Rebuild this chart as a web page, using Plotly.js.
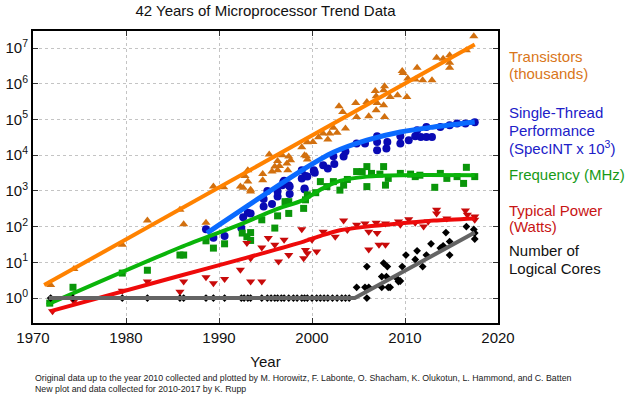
<!DOCTYPE html>
<html>
<head>
<meta charset="utf-8">
<script src="https://cdn.plot.ly/plotly-3.0.1.min.js"></script>
<style>html,body{margin:0;padding:0;background:#fff;}#chart{width:625px;height:396px;}</style>
</head>
<body>
<div id="chart"></div>
<script>
// ---- Transistors (thousands)
var transYears = [1971.9,1974.4,1979.6,1982.3,1985.8,1986.2,1988.6,1989.4,1990.5,1992.3,1992.6,1992.8,1993.1,1993.1,1993.4,1993.4,1994.7,1994.7,1995.4,1995.7,1996.0,1996.3,1996.3,1996.5,1996.8,1997.3,1997.4,1997.5,1997.7,1998.9,1999.2,1999.4,1999.5,1999.5,2000.1,2000.7,2001.2,2001.7,2001.9,2002.3,2002.7,2002.9,2003.3,2003.6,2004.7,2004.8,2005.9,2006.1,2006.8,2006.9,2006.9,2007.0,2007.7,2007.8,2007.7,2007.8,2008.4,2009.2,2010.2,2009.7,2009.8,2010.3,2011.1,2011.3,2011.9,2012.9,2013.4,2014.1,2014.8,2014.8,2014.8,2016.6,2017.4];
var transVals = [2.3,6.5,31,148,295,117,129,1320,1260,1320,1230,2630,1820,3800,1070,955,2950,2000,10500,3470,4790,6920,3800,5010,10000,5890,3800,9120,7240,16600,10000,9330,7590,22900,23400,31600,40700,27500,40700,58900,42700,234000,162000,56200,288000,117000,309000,123000,631000,447000,182000,288000,661000,851000,251000,117000,427000,479000,427000,2290000,2000000,1410000,1320000,2820000,1260000,1260000,5370000,5010000,6310000,3890000,2820000,8710000,21400000];
var transFitYears = [1971.2, 2017.5];
var transFitVals = [2.3, 12600000];

// ---- Single-thread performance (SpecINT x 10^3)
var perfYears = [1988.6,1989.4,1990.6,1992.4,1992.6,1993.1,1993.4,1994.8,1994.8,1995.2,1995.7,1996.3,1996.3,1996.8,1996.9,1997.0,1997.5,1997.6,1997.6,1998.9,1998.9,1999.2,1999.2,1999.3,1999.5,2000.2,2000.2,2000.3,2001.2,2001.7,2002.3,2002.4,2003.4,2003.6,2004.8,2005.7,2007.0,2007.0,2007.0,2008.0,2008.1,2009.5,2009.5,2010.4,2011.1,2011.3,2011.7,2012.3,2012.3,2012.9,2013.8,2014.8,2015.6,2016.5,2017.5];
var perfVals = [85,49,55,91,182,245,234,363,589,1000,427,692,955,1450,1740,1910,1450,813,1320,2240,3800,1120,1170,2630,2510,3470,3800,3240,5250,4270,9330,5620,9120,12600,21400,21400,33900,23400,13800,15500,23400,21400,33900,26300,33900,50100,32400,32400,61700,32400,61700,69200,77600,77600,83200];
var perfFitYears = [1988.7, 1998.7, 2002.3, 2005.9, 2009.5, 2013.1, 2017.5];
var perfFitVals = [66, 3470, 12000, 26300, 44700, 61700, 85100];

// ---- Frequency (MHz)
var freqYears = [1971.8,1974.3,1979.6,1982.3,1985.8,1986.2,1988.6,1989.4,1990.6,1992.5,1993.0,1993.4,1993.4,1994.6,1996.0,1996.3,1997.1,1997.5,1997.5,1999.1,1999.3,1999.5,2000.4,2000.9,2001.6,2002.3,2003.0,2003.4,2003.8,2004.8,2005.4,2005.9,2005.9,2006.4,2007.3,2007.7,2007.9,2008.2,2009.5,2010.6,2011.1,2011.6,2013.2,2013.8,2014.5,2015.6,2016.3,2016.6,2017.5];
var freqVals = [0.72,2,5,6,16,16,40,25,33,66,52,41,68,155,91,200,500,234,500,324,562,776,891,1820,1320,1820,1050,1450,2090,3470,3470,4790,1320,3090,2950,4790,1450,2240,3090,2950,2510,2750,1260,3090,2240,2510,1620,4570,2510];
var freqFitYears = [1971.5, 1985.8, 1992.3, 1996.0, 1999.1, 2001.0, 2003.0, 2005.9, 2009.5, 2017.5];
var freqFitVals = [0.65, 26, 115, 295, 562, 1120, 1910, 2510, 2750, 2750];

// ---- Typical power (Watts)
var powerYears = [1972.1,1974.4,1979.6,1982.3,1985.8,1986.2,1988.6,1989.4,1990.6,1992.3,1993.0,1993.4,1993.4,1994.6,1994.6,1995.3,1996.0,1996.4,1997.0,1997.5,1998.9,1999.1,1999.3,1999.5,2000.0,2000.5,2001.2,2002.5,2003.4,2003.8,2004.8,2005.7,2006.1,2006.1,2006.9,2007.0,2007.2,2007.9,2007.9,2009.3,2009.5,2010.4,2011.1,2012.0,2012.5,2013.4,2013.4,2014.5,2016.5,2016.7,2017.5,2017.5];
var powerVals = [0.43,0.81,1.6,2.9,1.5,2.9,3.8,2.6,3.4,6.2,35,13,2.9,2.9,26,48,31,10.5,43,16,85,13,22,18,43,20,72,52,148,81,112,123,72,23,129,66,31,31,123,138,112,162,129,100,138,295,234,170,282,214,191,155];
var powerFitYears = [1971.9, 1985.8, 1993.0, 1999.1, 2001.0, 2003.0, 2005.9, 2009.5, 2013.1, 2017.5];
var powerFitVals = [0.43, 4.2, 13.5, 38, 56, 79, 100, 123, 148, 170];

// ---- Number of logical cores
var coreYears = [1971.9,1974.3,1979.6,1982.3,1985.8,1986.2,1988.6,1989.4,1990.6,1992.4,1992.7,1993.1,1993.4,1994.6,1995.2,1995.6,1996.0,1996.3,1996.7,1997.0,1997.5,1998.0,1998.4,1998.9,1999.2,1999.5,2000.0,2000.5,2000.9,2001.3,2001.7,2002.2,2002.7,2003.2,2003.6,2004.0,2004.8,2005.9,2005.7,2006.1,2005.9,2007.7,2008.1,2007.5,2008.0,2007.5,2008.2,2008.4,2009.1,2009.3,2009.7,2009.5,2010.1,2011.1,2011.3,2011.9,2012.3,2012.8,2013.8,2014.1,2014.4,2014.8,2014.8,2016.6,2017.5,2017.5,2017.4];
var coreVals = [1,1,1,1,1,1,1,1,1,1,1,1,1,1,1,1,1,1,1,1,1,1,1,1,1,1,1,1,1,1,1,1,1,1,1,1,2,1,2,2,7.6,9.5,7.6,4,4,2,2,2,3.6,2.9,7.6,3,16,12,21,7.6,16,33,25,29,68,38,16,100,66,45,83];
var coreFitYears = [1971.7, 2004.6, 2017.5];
var coreFitVals = [1, 1, 68];

// ---- axis ticks
var xTicks = [1970,1980,1990,2000,2010,2020];
var yTickVals = [1,10,100,1000,10000,100000,1000000,10000000];
var yTickText = ['10<sup>0</sup>','10<sup>1</sup>','10<sup>2</sup>','10<sup>3</sup>','10<sup>4</sup>','10<sup>5</sup>','10<sup>6</sup>','10<sup>7</sup>'];

function pts(x, y, sym, col, size) {
  return {x: x, y: y, type: 'scatter', mode: 'markers', hoverinfo: 'skip',
    marker: {symbol: sym, color: col, size: size, line: {width: 0}}};
}
function fit(x, y, col, w, shape) {
  return {x: x, y: y, type: 'scatter', mode: 'lines', hoverinfo: 'skip',
    line: {color: col, width: w, shape: shape || 'linear', smoothing: 0.8}};
}

var data = [
  pts(transYears, transVals, 'triangle-up', '#d2700f', 8),
  fit(transFitYears, transFitVals, '#ff8200', 4),
  pts(perfYears, perfVals, 'circle', '#0a0ab4', 8),
  fit(perfFitYears, perfFitVals, '#0a6aff', 5, 'spline'),
  pts(freqYears, freqVals, 'square', '#0a960a', 7),
  fit(freqFitYears, freqFitVals, '#0ab40a', 4, 'spline'),
  pts(powerYears, powerVals, 'triangle-down', '#c80a0a', 8),
  fit(powerFitYears, powerFitVals, '#ee0a0a', 4, 'spline'),
  pts(coreYears, coreVals, 'diamond', '#000000', 6),
  fit(coreFitYears, coreFitVals, '#646464', 4)
];

var F = 'Liberation Sans, Arial, Helvetica, sans-serif';
var T = 31, B = 323; // plot top/bottom in px for label placement
function py(p) { return (B - p) / (B - T); }

var labels = [
  ['Transistors', 56, '#d9761a'],
  ['(thousands)', 73.3, '#d9761a'],
  ['Single-Thread', 112.7, '#2020c8'],
  ['Performance', 130, '#2020c8'],
  ['(SpecINT x 10<sup>3</sup>)', 147.3, '#2020c8'],
  ['Frequency (MHz)', 174, '#179a17'],
  ['Typical Power', 210, '#c81414'],
  ['(Watts)', 226.7, '#c81414'],
  ['Number of', 250.7, '#111111'],
  ['Logical Cores', 268.3, '#111111']
];
var annotations = labels.map(function (l) {
  return {text: l[0], xref: 'paper', yref: 'paper', x: (507 - 33) / 465, y: py(l[1]),
    xanchor: 'left', yanchor: 'middle', showarrow: false, font: {family: F, size: 15, color: l[2]}};
});
annotations.push({text: 'Original data up to the year 2010 collected and plotted by M. Horowitz, F. Labonte, O. Shacham, K. Olukotun, L. Hammond, and C. Batten',
  xref: 'paper', yref: 'paper', x: 0, y: py(378), xanchor: 'left', yanchor: 'middle', showarrow: false,
  font: {family: F, size: 8.8, color: '#222'}});
annotations.push({text: 'New plot and data collected for 2010-2017 by K. Rupp',
  xref: 'paper', yref: 'paper', x: 0, y: py(389), xanchor: 'left', yanchor: 'middle', showarrow: false,
  font: {family: F, size: 8.8, color: '#222'}});

var axisCommon = {
  showline: true, linewidth: 2, linecolor: '#000', mirror: 'ticks',
  ticks: 'inside', ticklen: 5, tickwidth: 1, tickcolor: '#333',
  showgrid: true, gridcolor: '#c4c4c4', gridwidth: 1, griddash: 'dot',
  zeroline: false, tickfont: {family: F, size: 15, color: '#111'}
};

var layout = {
  width: 625, height: 396,
  margin: {l: 33, r: 127, t: 31, b: 73},
  paper_bgcolor: '#fff', plot_bgcolor: '#fff',
  showlegend: false,
  font: {family: F, color: '#111'},
  title: {text: '42 Years of Microprocessor Trend Data', font: {family: F, size: 15, color: '#111'},
    x: 0.5, xref: 'paper', y: 1 - 11 / 396, yref: 'container', yanchor: 'middle'},
  xaxis: Object.assign({}, axisCommon, {range: [1970, 2020], tickvals: xTicks,
    title: {text: 'Year', font: {family: F, size: 15, color: '#111'}, standoff: 11}}),
  yaxis: Object.assign({}, axisCommon, {type: 'log', range: [Math.log10(0.2), Math.log10(3e7)],
    tickvals: yTickVals, ticktext: yTickText}),
  annotations: annotations
};

Plotly.newPlot('chart', data, layout, {staticPlot: true, displayModeBar: false});
</script>
</body>
</html>
